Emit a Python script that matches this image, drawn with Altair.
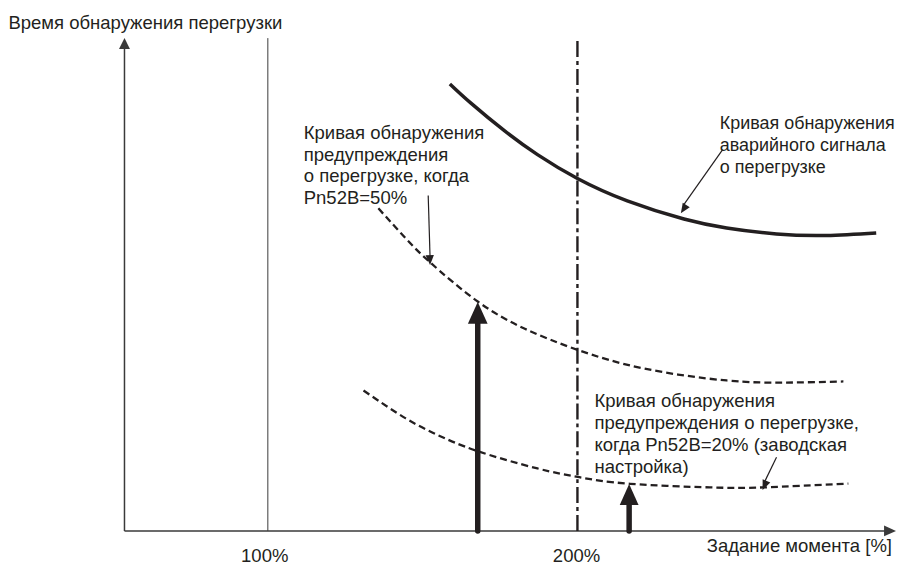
import altair as alt
import pandas as pd

# ---------------- data (torque in %, detection time in arbitrary units) ----------------
alarm_torque = [158.8, 165.6, 176.5, 187.1, 200.0, 216.1, 234.4, 248.2, 264.3, 280.4, 296.5]
alarm_time = [89.8, 85.94, 80.36, 75.6, 70.8, 66.3, 62.66, 60.86, 59.66, 59.36, 59.86]

warn50_torque = [135.7, 144.4, 152.4, 167.8, 183.0, 200.0, 221.5, 248.2, 267.5, 285.9]
warn50_time = [64.8, 58.86, 53.96, 46.08, 40.62, 36.38, 32.62, 30.22, 29.8, 30.02]

warn20_torque = [130.9, 144.4, 155.0, 167.8, 187.1, 200.6, 217.0, 242.8, 260.1, 287.5]
warn20_time = [28.2, 22.66, 19.22, 16.02, 12.54, 10.78, 9.46, 8.74, 8.74, 9.5]

tick_values = [100, 200]
tick_labels = ["100%", "200%"]

x_title = "Задание момента [%]"
y_title = "Время обнаружения перегрузки"

ann_alarm = "Кривая обнаружения\nаварийного сигнала\nо перегрузке"
ann_warn50 = "Кривая обнаружения\nпредупреждения\nо перегрузке, когда\nPn52B=50%"
ann_warn20 = "Кривая обнаружения\nпредупреждения о перегрузке,\nкогда Pn52B=20% (заводская\nнастройка)"

# geometry of the schematic in data units
x_origin, x_end = 53.7, 302.9
y_top = 99.0
arrow1_x, arrow1_tip = 167.8, 46.0
arrow2_x, arrow2_tip = 216.7, 9.4

# ---------------- scales ----------------
W, H = 892, 558
XDOM = [16.077, 302.894]
YDOM = [-6.8, 104.8]
INK = "#231f20"
AXC = "#3a3a3a"
FONT = "Liberation Sans"
FS = 18.6


def X(f="x"):
    return alt.X(f"{f}:Q", scale=alt.Scale(domain=XDOM, nice=False, zero=False), axis=None)


def Y(f="y"):
    return alt.Y(f"{f}:Q", scale=alt.Scale(domain=YDOM, nice=False, zero=False), axis=None)


def curve(tq, tm, dash=None, width=2.0):
    df = pd.DataFrame({"x": tq, "y": tm})
    kw = dict(color=INK, strokeWidth=width, interpolate="natural")
    if dash:
        kw["strokeDash"] = dash
    return alt.Chart(df).mark_line(**kw).encode(x=X(), y=Y())


def seg(x1, y1, x2, y2, color=INK, width=1.0, dash=None, cap="butt"):
    df = pd.DataFrame({"x": [x1], "y": [y1], "x2": [x2], "y2": [y2]})
    kw = dict(color=color, strokeWidth=width, strokeCap=cap)
    if dash:
        kw["strokeDash"] = dash
    return alt.Chart(df).mark_rule(**kw).encode(
        x=X(), y=Y(), x2=alt.X2("x2:Q"), y2=alt.Y2("y2:Q"))


def head(x, y, path, size, angle=0, color=INK):
    df = pd.DataFrame({"x": [x], "y": [y]})
    return alt.Chart(df).mark_point(
        shape=path, size=size, angle=angle, filled=True, color=color,
        opacity=1, strokeWidth=0).encode(x=X(), y=Y())


def label(x, y, txt, align="left", size=FS):
    df = pd.DataFrame({"x": [x], "y": [y], "t": [txt]})
    return alt.Chart(df).mark_text(
        align=align, baseline="alphabetic", font=FONT, fontSize=size,
        lineHeight=22, lineBreak="\n", color=INK).encode(x=X(), y=Y(), text="t:N")


UP = "M0,0L-0.5,1L0.5,1Z"        # tip at the point, pointing up
RIGHT = "M0,0L-1,-0.45L-1,0.45Z"  # tip at the point, pointing right
DOWN = "M0,0L-0.42,-1L0.42,-1Z"  # tip at the point, pointing down
BIGUP = "M0,0L-0.45,1L0.45,1Z"

layers = [
    # axes
    seg(x_origin, 0, x_origin, y_top - 2, color=AXC, width=1.5),
    seg(x_origin, 0, x_end - 3, 0, color=AXC, width=1.5),
    head(x_origin, y_top, UP, 484, color=AXC),
    head(x_end, 0, RIGHT, 576, color=AXC),
    # reference lines
    seg(100, 0, 100, y_top, color=AXC, width=1.0),
    seg(200, 0, 200, y_top, color=INK, width=2.4, dash=[16, 4, 4, 4]),
    # curves
    curve(alarm_torque, alarm_time, width=3.5),
    curve(warn50_torque, warn50_time, dash=[7, 4], width=2.3),
    curve(warn20_torque, warn20_time, dash=[7, 4], width=2.3),
    # thick arrows
    seg(arrow1_x, 0, arrow1_x, arrow1_tip - 3.5, width=5.5, cap="round"),
    head(arrow1_x, arrow1_tip, BIGUP, 1936),
    seg(arrow2_x, 0, arrow2_x, arrow2_tip - 3.5, width=5.5, cap="round"),
    head(arrow2_x, arrow2_tip, BIGUP, 1764),
    # leader lines
    seg(151.8, 67.4, 152.4, 55.0, width=1.2),
    head(152.4, 53.4, DOWN, 400, angle=358),
    seg(246.9, 76.6, 234.2, 65.4, width=1.2),
    head(233.4, 63.8, DOWN, 400, angle=33),
    seg(264.3, 14.8, 260.4, 9.8, width=1.2),
    head(259.8, 8.2, DOWN, 400, angle=23),
    # texts
    label(111.6, 78.8, ann_warn50),
    label(246.0, 80.8, ann_alarm, size=18),
    label(205.5, 24.8, ann_warn20),
    label(16.2, 100.8, y_title),
    label(301.6, -4.2, x_title, align="right"),
]

tick_df = pd.DataFrame({"x": [99.0, 199.7], "y": [-6.2, -6.2], "t": tick_labels})
layers.append(
    alt.Chart(tick_df).mark_text(align="center", baseline="alphabetic", font=FONT,
                                 fontSize=FS, color=INK).encode(x=X(), y=Y(), text="t:N"))

chart = alt.layer(*layers).properties(
    width=W, height=H, padding=0,
    autosize=alt.AutoSizeParams(type="none"),
).configure_view(stroke=None)

chart.save("out.html", embed_options={"renderer": "svg", "actions": False})
